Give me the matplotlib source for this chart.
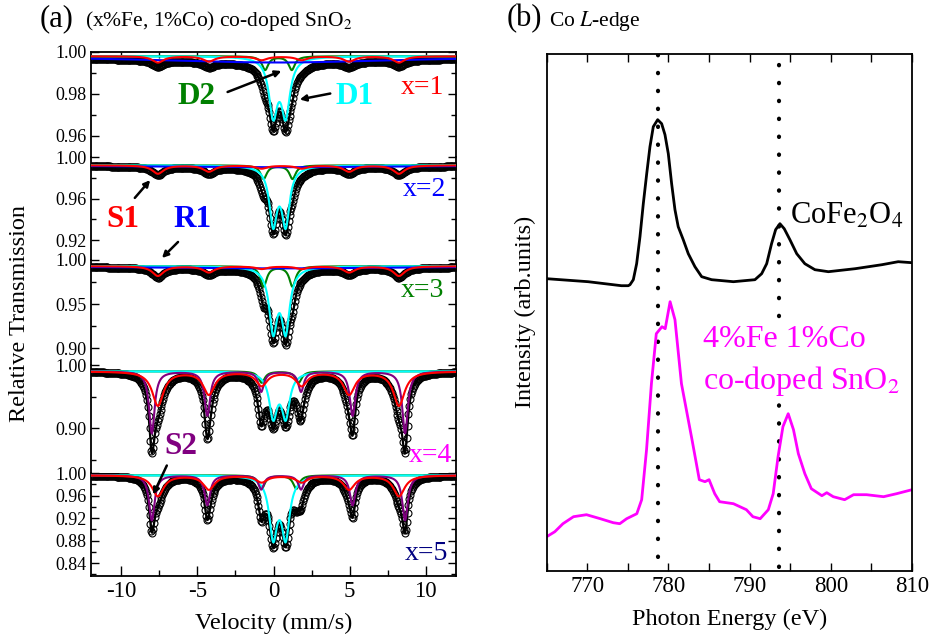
import numpy as np
import matplotlib
matplotlib.use('Agg')
import matplotlib.pyplot as plt
from matplotlib.ticker import MultipleLocator, FixedLocator

plt.rcParams['font.family'] = ['Liberation Serif', 'DejaVu Serif']
plt.rcParams['mathtext.fontset'] = 'stix'
plt.rcParams['axes.unicode_minus'] = False

W, H = 935, 636

# ---- (a) Mossbauer spectra, one panel per Fe content
# lines: position (mm/s), depth below baseline, half width (mm/s)
panel_labels = ['x=1', 'x=2', 'x=3', 'x=4', 'x=5']
label_colors = ['red', 'blue', 'green', 'magenta', 'navy']
baseline = [0.998, 0.992, 0.993, 0.990, 0.996]
ylims = [(0.95, 1.0), (0.901, 1.0), (0.881, 1.0), (0.829, 1.0), (0.817, 1.0)]
major_ticks = [[0.96, 0.98, 1.00], [0.92, 0.96, 1.00], [0.90, 0.95, 1.00],
               [0.90, 1.00], [0.84, 0.88, 0.92, 0.96, 1.00]]
minor_ticks = [[0.97, 0.99], [0.94, 0.98], [0.925, 0.975], [0.85, 0.95],
               [0.82, 0.86, 0.90, 0.94, 0.98]]

d1_pos = [-0.02, 0.80]
d1_depth = [0.0305, 0.062, 0.080, 0.079, 0.120]
d1_width = [0.34, 0.31, 0.32, 0.32, 0.32]

d2_pos = [[-0.55, 1.2], [-0.65, 1.25], [-0.65, 1.25], [-0.78, 1.65], [-0.78, 1.5]]
d2_depth = [0.0065, 0.013, 0.023, 0.018, 0.024]
d2_width = 0.25

s1_pos = [-7.6, -4.25, -0.78, 1.85, 4.97, 8.25]
s1_depth = [[0.003, 0.0025, 0.0018], [0.008, 0.006, 0.003], [0.011, 0.007, 0.003],
            [0.054, 0.036, 0.022], [0.037, 0.025, 0.012]]
s1_width = 0.45

s2_pos = [-8.0, -4.35, -0.81, 1.81, 5.2, 8.65]
s2_depth = [None, None, None, [0.098, 0.07, 0.032], [0.08, 0.053, 0.025]]
s2_width = 0.22

r1_center = 0.3
r1_depth = [0.003, 0.0018, 0.0025, None, None]
r1_width = 10.0

# ---- (b) Co L-edge XAS (arb. units)
e_cfo = [765.0, 770.1, 774.2, 775.05, 775.26, 775.67, 776.08, 776.49, 776.9, 777.32,
         777.72, 778.13, 778.67, 779.16, 779.57, 779.98, 780.39, 780.8, 781.2, 781.82,
         782.44, 783.26, 784.09, 785.32, 788.0, 790.65, 791.48, 792.1, 792.7, 793.2,
         793.73, 794.26, 794.96, 795.8, 796.8, 798.04, 799.7, 803.0, 806.3, 808.3, 810.0]
i_cfo = [292, 289, 285, 285, 286, 291, 307, 334, 367, 397, 424, 444, 451, 447, 436,
         417, 387, 361, 344, 331, 317, 304, 294, 291, 289, 291, 297, 307, 327, 341,
         347, 342, 331, 317, 307, 301, 299, 302, 306, 309, 308]
e_sno = [765.0, 766.0, 767.0, 768.3, 769.9, 771.6, 773.2, 774.0, 774.85, 776.1, 776.7,
         777.3, 777.9, 778.5, 779.2, 779.6, 780.2, 780.8, 781.6, 782.9, 783.8, 784.5,
         785.0, 785.7, 786.3, 788.0, 789.6, 790.4, 791.3, 792.3, 792.9, 793.5, 794.1,
         794.75, 795.4, 796.0, 796.8, 797.6, 798.9, 799.5, 800.3, 801.7, 802.8, 804.4,
         806.5, 808.1, 810.0]
i_sno = [34, 39, 47, 54, 56, 52, 48, 47, 52, 57, 71, 121, 187, 237, 244, 242, 269, 251,
         187, 131, 91, 89, 91, 77, 69, 67, 61, 54, 52, 61, 77, 114, 144, 157, 141, 117,
         97, 82, 75, 78, 74, 71, 76, 76, 74, 77, 81]
edge_lines = [778.7, 793.6]


def lor(v, pos, depth, g):
    out = np.zeros_like(v)
    for p, d in zip(pos, depth):
        out += d * g**2 / ((v - p)**2 + g**2)
    return out


def sextet(depth3):
    a, b, c = depth3
    return [a, b, c, c, b, a]


def fx(px):
    return px / W


def fy(py):
    return 1 - py / H


fig = plt.figure(figsize=(9.35, 6.36), dpi=100)

tops = [52, 157, 260, 365, 473, 576]
v = np.linspace(-12, 12, 400)
vf = np.linspace(-12, 12, 1200)
axs = []
for i in range(5):
    ax = fig.add_axes([fx(91), fy(tops[i + 1]), fx(456) - fx(91),
                       (tops[i + 1] - tops[i]) / H])
    axs.append(ax)
    b = baseline[i]
    comps = []
    comps.append(('cyan', lambda x, i=i: lor(x, d1_pos, [d1_depth[i] / 1.14] * 2, d1_width[i])))
    comps.append(('green', lambda x, i=i: lor(x, d2_pos[i], [d2_depth[i]] * 2, d2_width)))
    comps.append(('red', lambda x, i=i: lor(x, s1_pos, sextet(s1_depth[i]), s1_width)))
    if s2_depth[i] is not None:
        comps.append(('purple', lambda x, i=i: lor(x, s2_pos, sextet(s2_depth[i]), s2_width)))
    if r1_depth[i] is not None:
        comps.append(('blue', lambda x, i=i: lor(x, [r1_center], [r1_depth[i]], r1_width)))

    tot = b - sum(f(v) for _, f in comps)
    totf = b - sum(f(vf) for _, f in comps)
    ax.plot(v, tot, 'o', mfc='none', mec='k', ms=5, mew=0.8, zorder=1)
    ax.plot(vf, totf, color='k', lw=1.6, zorder=2)
    order = ['green', 'cyan', 'blue', 'purple', 'red']
    for col in order:
        for c, f in comps:
            if c == col:
                ax.plot(vf, b - f(vf), color=c, lw=1.5, zorder=3)

    ax.set_xlim(-12, 12)
    ax.set_ylim(*ylims[i])
    ax.yaxis.set_major_locator(FixedLocator(major_ticks[i]))
    ax.yaxis.set_minor_locator(FixedLocator(minor_ticks[i]))
    ax.set_yticklabels(['%.2f' % t for t in major_ticks[i]])
    ax.tick_params(axis='y', which='both', direction='in', left=True, right=True,
                   labelsize=13, pad=3)
    ax.tick_params(axis='y', which='major', length=6, width=1)
    ax.tick_params(axis='y', which='minor', length=3.5, width=1)
    ax.xaxis.set_major_locator(MultipleLocator(5))
    ax.xaxis.set_minor_locator(MultipleLocator(2.5))
    for s in ax.spines.values():
        s.set_linewidth(1.3)
    ax.spines['top'].set_visible(i == 0)
    ax.spines['bottom'].set_visible(i == 4)
    ax.tick_params(axis='x', which='both', direction='in', top=(i == 0),
                   bottom=(i == 4), labelbottom=(i == 4), labelsize=16.5, width=1)
    ax.tick_params(axis='x', which='major', length=7)
    ax.tick_params(axis='x', which='minor', length=4)
    ax.patch.set_alpha(0)

axs[4].set_xlabel('Velocity (mm/s)', fontsize=17.5, labelpad=8)
fig.text(fx(20), fy(314), 'Relative Transmission', rotation=90, fontsize=17.5,
         ha='center', va='center')

label_pos = [(422, 88), (424, 190), (422, 291), (430, 455), (426, 553)]
for (px, py), t, c in zip(label_pos, panel_labels, label_colors):
    fig.text(fx(px), fy(py), t, color=c, fontsize=20, ha='center', va='center')

comp_text = [('D2', 'green', 197, 96), ('D1', 'cyan', 355, 96), ('S1', 'red', 123, 220),
             ('R1', 'blue', 192, 220), ('S2', 'purple', 181, 447)]
for t, c, px, py in comp_text:
    fig.text(fx(px), fy(py), t, color=c, fontsize=22.5, fontweight='bold',
             ha='center', va='center')

arrows = [((225, 93), (284, 70)), ((333, 93), (297, 100)), ((133, 200), (152, 178)),
          ((180, 240), (160, 260)), ((168, 463), (152, 497))]
for (x0, y0), (x1, y1) in arrows:
    fig.add_artist(matplotlib.patches.FancyArrowPatch(
        (fx(x0), fy(y0)), (fx(x1), fy(y1)), transform=fig.transFigure,
        arrowstyle='-|>', mutation_scale=9, lw=1.8, color='k'))

fig.text(fx(40), fy(19), '(a)', fontsize=22, ha='left', va='center')
fig.text(fx(85), fy(21), '(x%Fe, 1%Co) co-doped SnO$_2$', fontsize=15.5,
         ha='left', va='center')

# ---- (b)
axb = fig.add_axes([fx(546.7), fy(570.7), fx(912) - fx(546.7), (570.7 - 54) / H])
axb.plot(e_cfo, i_cfo, color='k', lw=2)
axb.plot(e_sno, i_sno, color='#ff00ff', lw=2)
for e, lo in zip(edge_lines, [0.027, 0.008]):
    axb.axvline(e, ymin=lo, ymax=1, color='k', lw=3.0,
                ls=(0, (0.1, 4.2)), dash_capstyle='round', zorder=1)
axb.set_xlim(765, 810)
axb.set_ylim(0, 516.7)
axb.xaxis.set_major_locator(MultipleLocator(10))
axb.xaxis.set_minor_locator(MultipleLocator(5))
axb.set_yticks([])
axb.tick_params(axis='x', which='both', direction='in', top=True, labelsize=16.5,
                length=6, width=1)
for s in axb.spines.values():
    s.set_linewidth(1.3)
axb.set_xlabel('Photon Energy (eV)', fontsize=17.5, labelpad=9)
axb.set_ylabel('Intensity (arb.units)', fontsize=17.5, labelpad=8)

fig.text(fx(790), fy(216), 'CoFe$_2$O$_4$', fontsize=22, ha='left', va='center')
fig.text(fx(703), fy(339), '4%Fe 1%Co', fontsize=23, color='#ff00ff', ha='left',
         va='center', bbox=dict(fc='white', ec='none', pad=1))
fig.text(fx(703), fy(381), 'co-doped SnO$_2$', fontsize=23, color='#ff00ff', ha='left',
         va='center', bbox=dict(fc='white', ec='none', pad=1))

fig.text(fx(507), fy(19), '(b)', fontsize=22, ha='left', va='center')
fig.text(fx(549), fy(21), 'Co $L$-edge', fontsize=15.5, ha='left', va='center')

fig.savefig('out.png', dpi=100)
